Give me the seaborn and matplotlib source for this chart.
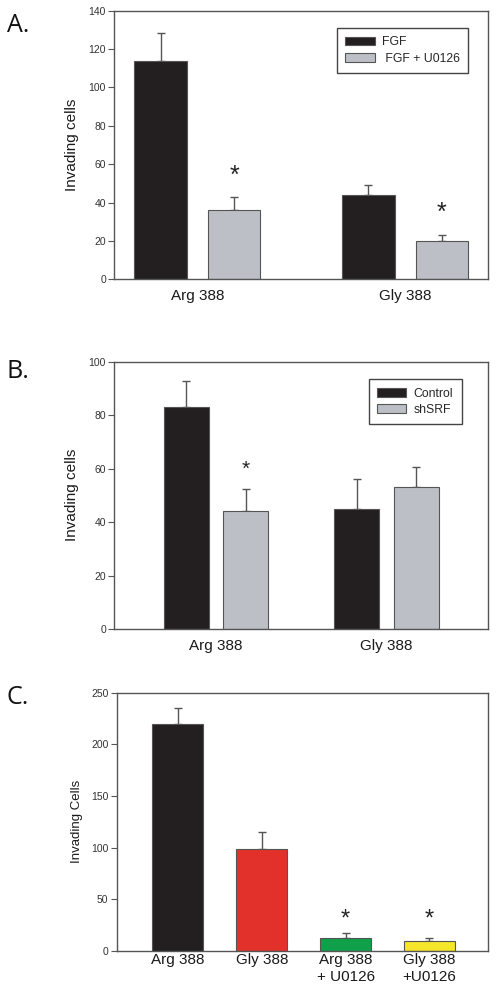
import matplotlib
matplotlib.use("Agg")
import matplotlib.pyplot as plt
import seaborn as sns
import pandas as pd
import numpy as np

# ---------------- data ----------------
a_groups = ["Arg 388", "Gly 388"]
a_treat = ["FGF", " FGF + U0126"]
a_fgf = [114, 44]
a_fgf_err = [14.5, 5]
a_u0126 = [36, 20]
a_u0126_err = [6.7, 3]
a_star_y = [54, 34.5]

b_groups = ["Arg 388", "Gly 388"]
b_treat = ["Control", "shSRF"]
b_control = [83, 45]
b_control_err = [9.8, 11]
b_shsrf = [44, 53]
b_shsrf_err = [8.2, 7.7]
b_star_y = [59.7]

c_labels = ["Arg 388", "Gly 388", "Arg 388\n+ U0126", "Gly 388\n+U0126"]
c_values = [220, 99, 12, 9]
c_err = [15.5, 16.3, 4.8, 3.3]
c_star_y = [30, 30]

DARK = "#231f20"
GRAY = "#bcc0c6"
c_colors = [DARK, "#e2312b", "#10a04a", "#f5e52b"]
EDGE = "#555555"

sns.set_theme(style="white")
plt.rcParams["font.family"] = ["Liberation Sans", "DejaVu Sans"]
plt.rcParams["axes.edgecolor"] = EDGE
plt.rcParams["axes.linewidth"] = 1.0

fig = plt.figure(figsize=(4.97, 9.93), dpi=100)

def style_axes(ax, yticks, ylim, xpad):
    ax.set_ylim(*ylim)
    ax.set_yticks(yticks)
    ax.tick_params(axis="y", direction="out", length=4, width=0.8, color=EDGE,
                   labelsize=7.5, labelcolor="#333333", pad=2, left=True)
    ax.tick_params(axis="x", length=0, labelsize=11, labelcolor="#1a1a1a", pad=xpad)
    for s in ax.spines.values():
        s.set_visible(True)
        s.set_color(EDGE)
        s.set_linewidth(1.0)
    ax.set_xlabel("")

def add_errs(ax, containers_vals, containers_errs):
    for cont, vals, errs in zip(ax.containers, containers_vals, containers_errs):
        xs = [p.get_x() + p.get_width() / 2 for p in cont.patches]
        ax.errorbar(xs, vals, yerr=[np.zeros(len(errs)), errs], fmt="none",
                    ecolor=EDGE, elinewidth=1.0, capsize=3, capthick=1.0, zorder=1)

# ---------------- Panel A ----------------
axA = fig.add_axes([0.230, 0.7187, 0.7525, 0.2705])
dfA = pd.DataFrame({
    "group": a_groups * 2,
    "treat": [a_treat[0]] * 2 + [a_treat[1]] * 2,
    "value": a_fgf + a_u0126,
})
sns.barplot(data=dfA, x="group", y="value", hue="treat", hue_order=a_treat,
            palette=[DARK, GRAY], saturation=1, width=0.708, gap=0.285,
            edgecolor=EDGE, linewidth=0.8, errorbar=None, ax=axA, zorder=2)
add_errs(axA, [a_fgf, a_u0126], [a_fgf_err, a_u0126_err])
axA.set_xlim(-0.4, 1.4)
style_axes(axA, np.arange(0, 141, 20), (0, 140), 7)
axA.set_ylabel("Invading cells", fontsize=11, color="#1a1a1a")
axA.yaxis.set_label_coords(-0.095, 0.5)
for p, sy in zip(axA.containers[1].patches, a_star_y):
    axA.text(p.get_x() + p.get_width() / 2, sy, "*", ha="center", va="center",
             fontsize=18, color="#222222")
h, l = axA.get_legend_handles_labels()
axA.legend(h, l, loc="upper right", bbox_to_anchor=(0.9465, 0.9367),
           borderaxespad=0, fontsize=8.8, frameon=True, fancybox=False,
           edgecolor="#444444", framealpha=1, handlelength=2.4, handleheight=0.7,
           handletextpad=0.6, labelspacing=0.35, borderpad=0.7)
axA.get_legend().get_frame().set_linewidth(1.0)

# ---------------- Panel B ----------------
axB = fig.add_axes([0.230, 0.3666, 0.7525, 0.2692])
dfB = pd.DataFrame({
    "group": b_groups * 2,
    "treat": [b_treat[0]] * 2 + [b_treat[1]] * 2,
    "value": b_control + b_shsrf,
})
sns.barplot(data=dfB, x="group", y="value", hue="treat", hue_order=b_treat,
            palette=[DARK, GRAY], saturation=1, width=0.698, gap=0.243,
            edgecolor=EDGE, linewidth=0.8, errorbar=None, ax=axB, zorder=2)
add_errs(axB, [b_control, b_shsrf], [b_control_err, b_shsrf_err])
axB.set_xlim(-0.597, 1.598)
style_axes(axB, np.arange(0, 101, 20), (0, 100), 7)
axB.set_ylabel("Invading cells", fontsize=11, color="#1a1a1a")
axB.yaxis.set_label_coords(-0.095, 0.5)
p = axB.containers[1].patches[0]
axB.text(p.get_x() + p.get_width() / 2, b_star_y[0], "*", ha="center", va="center",
         fontsize=15, color="#222222")
h, l = axB.get_legend_handles_labels()
axB.legend(h, l, loc="upper right", bbox_to_anchor=(0.9297, 0.9353),
           borderaxespad=0, fontsize=8.8, frameon=True, fancybox=False,
           edgecolor="#444444", framealpha=1, handlelength=2.4, handleheight=0.7,
           handletextpad=0.6, labelspacing=0.35, borderpad=0.7)
axB.get_legend().get_frame().set_linewidth(1.0)

# ---------------- Panel C ----------------
axC = fig.add_axes([0.2348, 0.0426, 0.7477, 0.2598])
dfC = pd.DataFrame({"label": c_labels, "value": c_values})
sns.barplot(data=dfC, x="label", y="value", hue="label", palette=c_colors,
            saturation=1, width=0.608, edgecolor=EDGE, linewidth=0.8,
            errorbar=None, legend=False, ax=axC, zorder=2)
for cont, v, e in zip(axC.containers, c_values, c_err):
    pp = cont.patches[0]
    axC.errorbar([pp.get_x() + pp.get_width() / 2], [v], yerr=[[0], [e]], fmt="none",
                 ecolor=EDGE, elinewidth=1.0, capsize=3, capthick=1.0, zorder=1)
axC.set_xlim(-0.731, 3.702)
style_axes(axC, np.arange(0, 251, 50), (0, 250), 2)
axC.set_ylabel("Invading Cells", fontsize=9.5, color="#1a1a1a")
axC.yaxis.set_label_coords(-0.0915, 0.5)
for cont, sy in zip(axC.containers[2:], c_star_y):
    pp = cont.patches[0]
    axC.text(pp.get_x() + pp.get_width() / 2, sy, "*", ha="center", va="center",
             fontsize=17, color="#222222")

# ---------------- panel letters ----------------
for txt, y in [("A.", 0.968), ("B.", 0.619), ("C.", 0.291)]:
    fig.text(0.014, y, txt, fontsize=18, family=["Open Sans", "DejaVu Sans"],
             va="baseline", ha="left", color="#111111")

fig.savefig("out.png", dpi=100)
